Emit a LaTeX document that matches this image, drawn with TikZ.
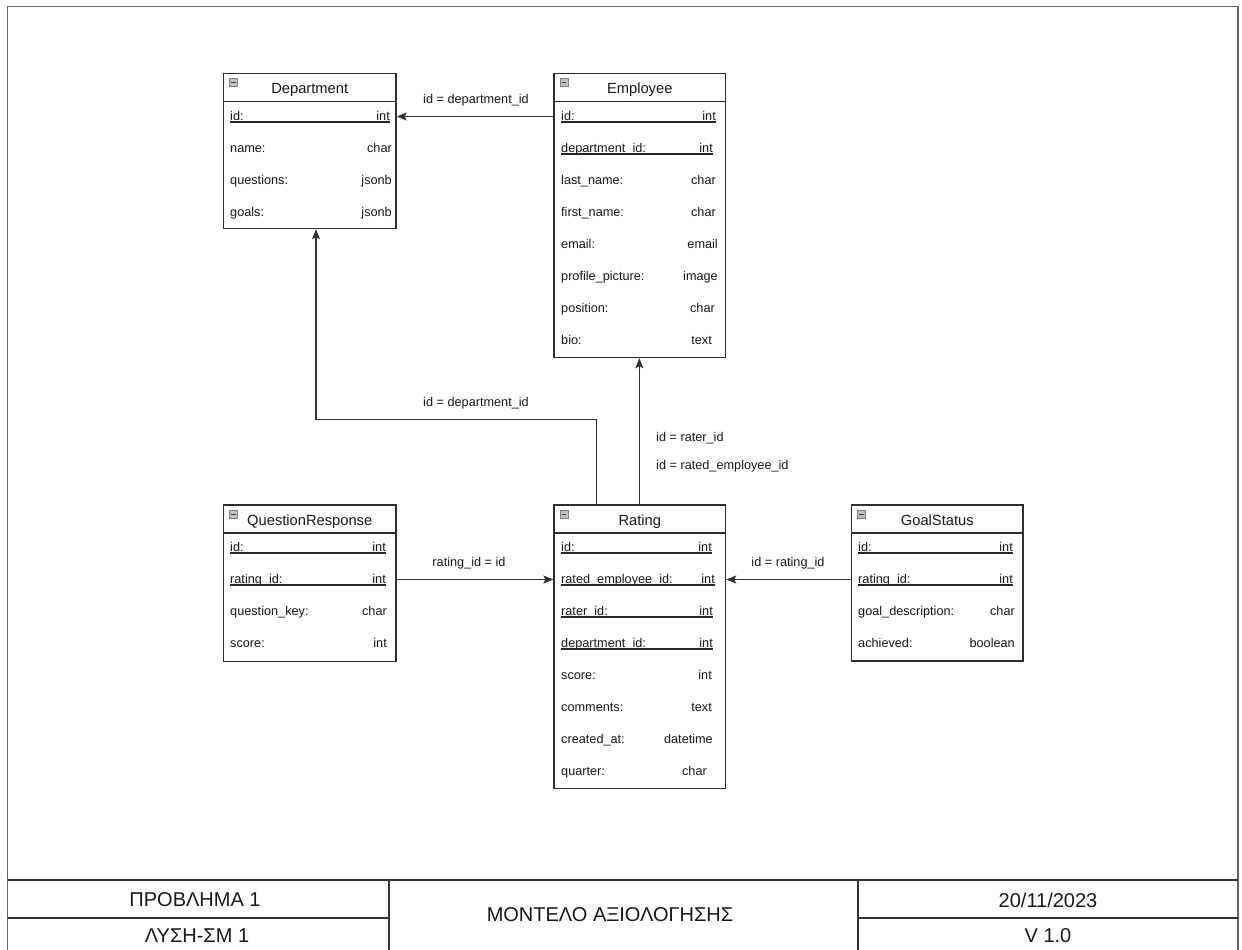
\documentclass[tikz,border=0pt]{standalone}
\usepackage{fontspec}
\setmainfont{Liberation Sans}
\usetikzlibrary{arrows.meta,fit}

\tikzset{
  frameline/.style={draw=black!60, line width=1.9pt},
  blockline/.style={draw=black!80, line width=1.3pt},
  tbl/.style={draw=black!82, line width=1.35pt, fill=white, rectangle, inner sep=0pt},
  tblline/.style={draw=black!82, line width=1.3pt},
  hdr/.style={font=\fontsize{14.7}{17}\selectfont, text=black!90, inner sep=0pt, anchor=base},
  fldtxt/.style={font=\fontsize{12.7}{15}\selectfont, text=black!90, inner sep=0pt},
  keyline/.style={draw=black!85, line width=1.2pt},
  icon/.style={draw=black!50, fill=black!25, line width=0.8pt},
  conn/.style={draw=black!80, line width=1.35pt, -{Stealth[length=10pt,width=8pt,inset=2pt]}},
  lbl/.style={font=\fontsize{12.7}{15}\selectfont, text=black!90, inner sep=0pt},
  ttl/.style={font=\fontsize{20}{23}\selectfont, text=black!90, inner sep=0pt},
}

% table frame: name, x1, y1, x2, y2, title
\newcommand\ertable[6]{%
  \node[tbl, fit={(#2,#3) (#4,#5)}] (#1) {};
  \draw[tblline] (#2,#3+28) -- (#4,#3+28);
  \node[hdr] (#1-title) at ({(#2+#4)/2},#3+20) {#6};
  \draw[icon] (#2+6,#3+5) rectangle ++(8,8);
  \draw[black!75, line width=1pt] (#2+7.8,#3+9) -- ++(4.4,0);
}
% field row: name, left x, right x, baseline y, field, type
\newcommand\erfield[6]{%
  \node[fldtxt, anchor=base west] (#1-f) at (#2,#4) {#5};
  \node[fldtxt, anchor=base east] (#1-t) at (#3,#4) {#6};
  \coordinate (#1) at (#2,#4-3.5);
}
\newcommand\erkey[6]{%
  \erfield{#1}{#2}{#3}{#4}{#5}{#6}%
  \draw[keyline] (#2,#4+2) -- (#3,#4+2);
}

\begin{document}
\begin{tikzpicture}[x=1pt,y=-1pt]
\useasboundingbox (0,0) rectangle (1242,950);

% outer frame and title block
\draw[frameline] (7.5,6.5) rectangle (1238,952);
\draw[blockline] (7.5,880) -- (1238,880);
\draw[blockline] (389,880) -- (389,952);
\draw[blockline] (858,880) -- (858,952);
\draw[blockline] (7.5,918) -- (389,918);
\draw[blockline] (858,918) -- (1238,918);
\node[ttl] (prob) at (195,900) {ΠΡΟΒΛΗΜΑ 1};
\node[ttl] (sol) at (197,936) {ΛΥΣΗ-ΣΜ 1};
\node[ttl] (model) at (610,915) {ΜΟΝΤΕΛΟ ΑΞΙΟΛΟΓΗΣΗΣ};
\node[ttl] (date) at (1048,900) {20/11/2023};
\node[ttl] (ver) at (1048,936) {V 1.0};

% Department
\ertable{dep}{223.5}{73.5}{396}{228.5}{Department}
\erkey{dep-id}{230}{390}{120}{id:}{int}
\erfield{dep-name}{230}{392}{152}{name:}{char}
\erfield{dep-q}{230}{392}{184}{questions:}{jsonb}
\erfield{dep-g}{230}{392}{216}{goals:}{jsonb}

% Employee
\ertable{emp}{554}{73.5}{725.5}{357.5}{Employee}
\erkey{emp-id}{561}{716}{120}{id:}{int}
\erkey{emp-dep}{561}{713}{152}{department\_id:}{int}
\erfield{emp-ln}{561}{716}{184}{last\_name:}{char}
\erfield{emp-fn}{561}{716}{216}{first\_name:}{char}
\erfield{emp-mail}{561}{718}{248}{email:}{email}
\erfield{emp-pic}{561}{718}{280}{profile\_picture:}{image}
\erfield{emp-pos}{561}{715}{312}{position:}{char}
\erfield{emp-bio}{561}{712}{344}{bio:}{text}

% Rating
\ertable{rat}{554}{505}{725.5}{788.5}{Rating}
\erkey{rat-id}{561}{712}{551}{id:}{int}
\erkey{rat-re}{561}{715}{583}{rated\_employee\_id:}{int}
\erkey{rat-rr}{561}{713}{615}{rater\_id:}{int}
\erkey{rat-dep}{561}{713}{647}{department\_id:}{int}
\erfield{rat-sc}{561}{712}{679}{score:}{int}
\erfield{rat-cm}{561}{712}{711}{comments:}{text}
\erfield{rat-ca}{561}{713}{743}{created\_at:}{datetime}
\erfield{rat-qt}{561}{707}{775}{quarter:}{char}

% QuestionResponse
\ertable{qr}{223.5}{505}{396}{661.5}{QuestionResponse}
\erkey{qr-id}{230}{386}{551}{id:}{int}
\erkey{qr-rat}{230}{386}{583}{rating\_id:}{int}
\erfield{qr-key}{230}{387}{615}{question\_key:}{char}
\erfield{qr-sc}{230}{387}{647}{score:}{int}

% GoalStatus
\ertable{gs}{851.5}{505}{1023}{661}{GoalStatus}
\erkey{gs-id}{858}{1013}{551}{id:}{int}
\erkey{gs-rat}{858}{1013}{583}{rating\_id:}{int}
\erfield{gs-desc}{858}{1015}{615}{goal\_description:}{char}
\erfield{gs-ach}{858}{1015}{647}{achieved:}{boolean}

% relations
\draw[conn] (emp.west |- emp-id) -- (dep.east |- emp-id);
\node[lbl] (l-empdep) at (476,100) {id = department\_id};

\coordinate (dbend) at (316,419.5);
\draw[conn] ([xshift=43pt]rat.north west) |- (dbend) -- (dep.south -| dbend);
\node[lbl] (l-ratdep) at (476,403) {id = department\_id};

\draw[conn] ([xshift=86pt]rat.north west) -- ([xshift=86pt]emp.south west);
\node[lbl, anchor=west] (l-rater) at (656,438) {id = rater\_id};
\node[lbl, anchor=west] (l-rated) at (656,466) {id = rated\_employee\_id};

\draw[conn] (qr.east |- qr-rat) -- (rat.west |- qr-rat);
\node[lbl] (l-qr) at (469,563) {rating\_id = id};

\draw[conn] (gs.west |- gs-rat) -- (rat.east |- gs-rat);
\node[lbl] (l-gs) at (788,563) {id = rating\_id};
\end{tikzpicture}
\end{document}
